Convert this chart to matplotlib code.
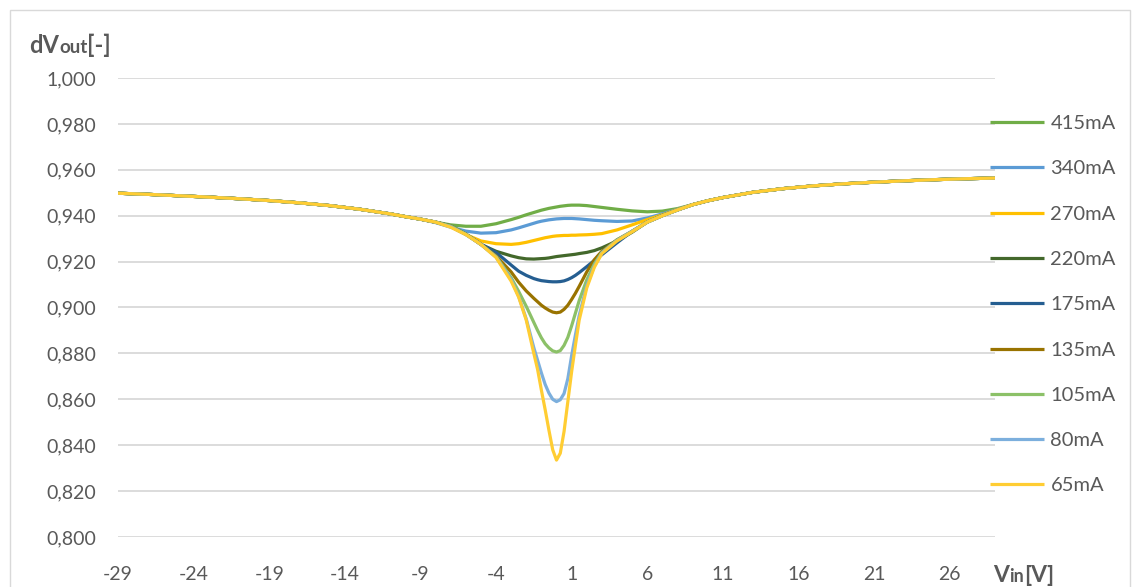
import numpy as np
import matplotlib
matplotlib.use("Agg")
import matplotlib.pyplot as plt
from matplotlib.offsetbox import TextArea, HPacker, AnnotationBbox
from matplotlib.patches import Rectangle

plt.rcParams['font.family'] = ['Lato', 'DejaVu Sans']
plt.rcParams['axes.unicode_minus'] = False

# shared tails (all currents coincide there)
x_left = [-29, -27, -25, -23, -21, -19, -17, -15, -13, -11, -10, -9]
tail_left = [0.9498, 0.9493, 0.9487, 0.9481, 0.9474, 0.9466, 0.9456, 0.9444,
             0.9428, 0.9408, 0.9396, 0.9385]
x_right = [9, 10, 11, 13, 15, 17, 19, 21, 23, 25, 27, 29]
tail_right = [0.9448, 0.9465, 0.9479, 0.9502, 0.9518, 0.9530, 0.9539, 0.9546,
              0.9552, 0.9557, 0.9561, 0.9564]

# centre region, read per current
x_mid = [-8, -7, -6, -5, -4, -3, -2.5, -2, -1.5, -1.25, -1, -0.75, -0.5, -0.25, 0,
         0.25, 0.5, 0.75, 1, 1.25, 1.5, 2, 2.5, 3, 4, 5, 6, 7, 8]

v415 = [0.9372, 0.9360, 0.9354, 0.9354, 0.9365, 0.9383, 0.9393, 0.9404, 0.9414,
        0.9419, 0.9424, 0.9428, 0.9432, 0.9435, 0.9438,
        0.9441, 0.9443, 0.9445, 0.9446, 0.9446, 0.9446, 0.9444, 0.9440, 0.9436,
        0.9428, 0.9421, 0.9417, 0.9420, 0.9431]
v340 = [0.9370, 0.9350, 0.9333, 0.9324, 0.9326, 0.9338, 0.9347, 0.9357, 0.9367,
        0.9372, 0.9376, 0.9379, 0.9382, 0.9384, 0.9386,
        0.9387, 0.9388, 0.9388, 0.9388, 0.9387, 0.9386, 0.9383, 0.9380, 0.9378,
        0.9375, 0.9377, 0.9390, 0.9408, 0.9428]
v270 = [0.9372, 0.9352, 0.9318, 0.9290, 0.9278, 0.9275, 0.9278, 0.9284, 0.9292,
        0.9296, 0.9300, 0.9304, 0.9307, 0.9310, 0.9312,
        0.9313, 0.9314, 0.9314, 0.9315, 0.9315, 0.9316, 0.9317, 0.9319, 0.9322,
        0.9338, 0.9360, 0.9383, 0.9404, 0.9427]
v220 = [0.9372, 0.9355, 0.9320, 0.9275, 0.9245, 0.9225, 0.9217, 0.9212, 0.9211,
        0.9212, 0.9213, 0.9214, 0.9216, 0.9219, 0.9222,
        0.9224, 0.9226, 0.9228, 0.9230, 0.9232, 0.9235, 0.9240, 0.9248, 0.9260,
        0.9290, 0.9328, 0.9372, 0.9401, 0.9425]
v175 = [0.9372, 0.9355, 0.9320, 0.9276, 0.9240, 0.9185, 0.9158, 0.9140, 0.9126,
        0.9121, 0.9117, 0.9115, 0.9113, 0.9112, 0.9112,
        0.9113, 0.9116, 0.9122, 0.9130, 0.9140, 0.9152, 0.9178, 0.9205, 0.9230,
        0.9282, 0.9332, 0.9372, 0.9400, 0.9425]
v135 = [0.9372, 0.9355, 0.9320, 0.9275, 0.9225, 0.9155, 0.9110, 0.9072, 0.9040,
        0.9025, 0.9010, 0.8998, 0.8988, 0.8980, 0.8977,
        0.8980, 0.8992, 0.9010, 0.9035, 0.9062, 0.9092, 0.9155, 0.9208, 0.9245,
        0.9295, 0.9332, 0.9372, 0.9400, 0.9425]
v105 = [0.9372, 0.9355, 0.9320, 0.9275, 0.9222, 0.9130, 0.9070, 0.9005, 0.8935,
        0.8900, 0.8868, 0.8842, 0.8824, 0.8811, 0.8806,
        0.8812, 0.8835, 0.8870, 0.8920, 0.8975, 0.9030, 0.9120, 0.9190, 0.9240,
        0.9294, 0.9332, 0.9372, 0.9400, 0.9425]
v80 = [0.9372, 0.9352, 0.9318, 0.9275, 0.9220, 0.9122, 0.9048, 0.8950, 0.8825,
       0.8770, 0.8715, 0.8665, 0.8627, 0.8600, 0.8590,
       0.8598, 0.8625, 0.8690, 0.8790, 0.8880, 0.8965, 0.9095, 0.9180, 0.9238,
       0.9292, 0.9332, 0.9372, 0.9400, 0.9425]
v65 = [0.9372, 0.9350, 0.9318, 0.9275, 0.9218, 0.9115, 0.9045, 0.8945, 0.8800,
       0.8730, 0.8640, 0.8555, 0.8465, 0.8380, 0.8335,
       0.8365, 0.8460, 0.8590, 0.8720, 0.8835, 0.8945, 0.9085, 0.9175, 0.9235,
       0.9290, 0.9330, 0.9372, 0.9400, 0.9425]

labels = ['415mA', '340mA', '270mA', '220mA', '175mA', '135mA', '105mA', '80mA', '65mA']
colors = ['#70AD47', '#5B9BD5', '#FFC000', '#43682B', '#255E91', '#997300',
          '#8CC168', '#7CAFDD', '#FFCD33']
series = [v415, v340, v270, v220, v175, v135, v105, v80, v65]

grey = '#595959'
W, H = 1140, 587
fig = plt.figure(figsize=(W / 100, H / 100), dpi=100)
fig.add_artist(Rectangle((10 / W, -0.05), 1120 / W, 1 - 10 / H + 0.05,
                         transform=fig.transFigure, fill=False,
                         edgecolor='#D9D9D9', lw=1))

ax = fig.add_axes([118 / W, 1 - 537 / H, (995 - 118) / W, (537 - 78) / H])

x_all = x_left + x_mid + x_right
for lab, col, mid in zip(labels, colors, series):
    ax.plot(x_all, tail_left + mid + tail_right, color=col, lw=2.3, label=lab,
            solid_joinstyle='round', solid_capstyle='butt')

ax.set_xlim(-29, 29)
ax.set_ylim(0.8, 1.0)
yt = np.arange(0.8, 1.0001, 0.02)
ax.set_yticks(yt)
ax.set_yticklabels([f"{v:.3f}".replace('.', ',') for v in yt])
ax.set_xticks(np.arange(-29, 27, 5))
ax.grid(axis='y', color='#D9D9D9', lw=1.3)
ax.set_axisbelow(True)
for s in ax.spines.values():
    s.set_visible(False)
ax.tick_params(axis='both', length=0, labelsize=14, colors=grey)
ax.tick_params(axis='y', pad=16)
ax.tick_params(axis='x', pad=21)

ax.legend(loc='upper left', bbox_to_anchor=(990 / W, 1 - 115 / H),
          bbox_transform=fig.transFigure, frameon=False, handlelength=2.7,
          handletextpad=0.3, labelspacing=1.40, borderpad=0, borderaxespad=0,
          fontsize=14.5, labelcolor=grey)


def axis_title(parts, xy):
    kids = [TextArea(t, textprops=dict(fontsize=s, fontweight='bold', color=grey))
            for t, s in parts]
    box = HPacker(children=kids, align='baseline', pad=0, sep=0)
    fig.add_artist(AnnotationBbox(box, xy, xycoords='figure pixels',
                                  box_alignment=(0, 0.5), frameon=False))


axis_title([('dV', 17), ('out', 13.5), ('[-]', 17)], (29, H - 45))
axis_title([('V', 16.5), ('in', 13), ('[V]', 16.5)], (993, H - 575))

fig.savefig('out.png', dpi=100)
